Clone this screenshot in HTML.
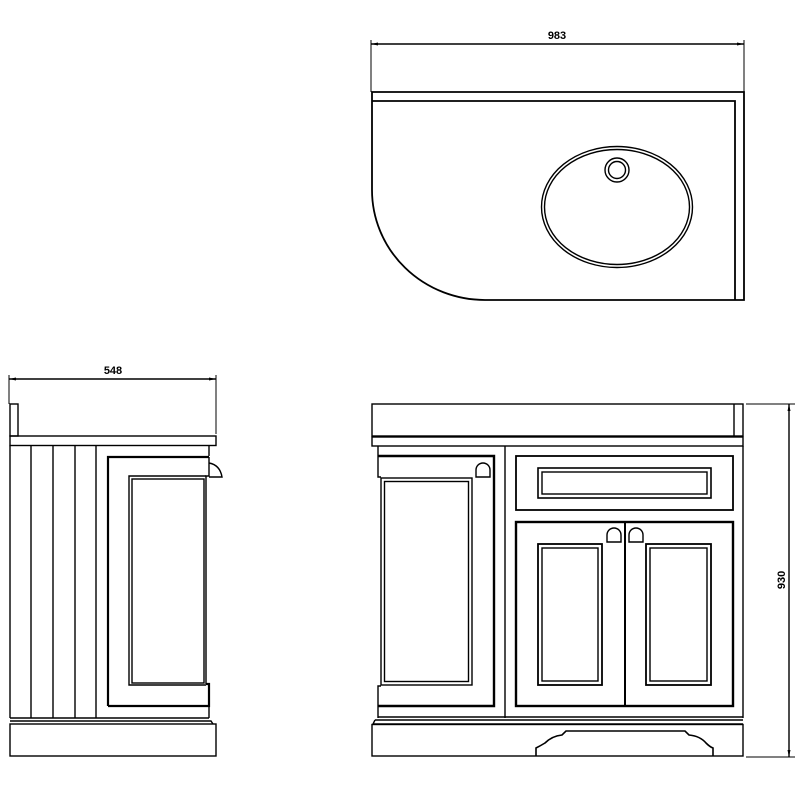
<!DOCTYPE html>
<html><head><meta charset="utf-8"><style>
html,body{margin:0;padding:0;background:#fff;width:800px;height:800px;overflow:hidden}
svg{display:block}
text{font-family:"Liberation Sans",Arial,sans-serif;font-size:11px;font-weight:bold;fill:#000}
</style></head><body>
<svg width="800" height="800" viewBox="0 0 800 800" fill="none" stroke="#000" stroke-width="1.4">
<!-- TOP VIEW -->
<line x1="371" y1="44" x2="744" y2="44"/>
<line x1="371" y1="40" x2="371" y2="92" stroke-width="1"/>
<line x1="744" y1="40" x2="744" y2="92" stroke-width="1"/>
<path d="M371 44 l7 -1.5 v3z M744 44 l-7 -1.5 v3z" fill="#000" stroke="none"/>
<text x="557" y="39" text-anchor="middle" stroke="none">983</text>
<path d="M372 92 H744 V300 H485 A113 110 0 0 1 372 190 Z" stroke-width="1.8"/>
<path d="M372 101 H735 V300" stroke-width="1.8"/>
<ellipse cx="617" cy="207" rx="75.5" ry="60.5" stroke-width="1.4"/>
<ellipse cx="617" cy="207" rx="72.5" ry="57.5" stroke-width="1.4"/>
<circle cx="617" cy="170" r="12" stroke-width="1.4"/>
<circle cx="617" cy="170" r="8.5" stroke-width="1.4"/>

<!-- SIDE VIEW -->
<line x1="9" y1="379" x2="216" y2="379"/>
<line x1="9" y1="375" x2="9" y2="404" stroke-width="1"/>
<line x1="216" y1="375" x2="216" y2="434" stroke-width="1"/>
<path d="M9 379 l7 -1.5 v3z M216 379 l-7 -1.5 v3z" fill="#000" stroke="none"/>
<text x="113" y="374" text-anchor="middle" stroke="none">548</text>
<rect x="10" y="404" width="8" height="32"/>
<rect x="10" y="436" width="206" height="9.5"/>
<path d="M10 445.5 V718 M209 445.5 V456 M209 706 V718"/>
<line x1="31" y1="446" x2="31" y2="718"/>
<line x1="53" y1="446" x2="53" y2="718"/>
<line x1="75" y1="446" x2="75" y2="718"/>
<line x1="96" y1="446" x2="96" y2="718"/>
<path d="M108 706 V457 H209" stroke-width="2.2"/>
<path d="M108 706 H209 V684 H206" stroke-width="2.2"/>
<path d="M209 457 V476 H206 V684" stroke-width="1.4"/>
<path d="M206 476 H129 V685 H206" stroke-width="1.4"/>
<rect x="132" y="479" width="72" height="204" stroke-width="1.4"/>
<path d="M209 463 Q220 465 222 477 H209" stroke-width="1.4"/>
<line x1="10" y1="718" x2="209" y2="718"/>
<path d="M10 721 H211 L213 724"/>
<rect x="10" y="724" width="206" height="32"/>

<!-- FRONT VIEW -->
<rect x="372" y="404" width="371" height="32"/>
<line x1="734" y1="404" x2="734" y2="436"/>
<rect x="372" y="437" width="371" height="9"/>
<path d="M378 446 V477 H381 M381 686 H378 V718"/>
<path d="M378 456 H494 V706 H378" stroke-width="2.4"/>
<rect x="381" y="478" width="91" height="207"/>
<rect x="384.5" y="481.5" width="84" height="200"/>
<path d="M476 477 V470 A7 7 0 0 1 490 470 V477 Z"/>
<line x1="505" y1="446" x2="505" y2="718"/>
<line x1="743" y1="446" x2="743" y2="718"/>
<rect x="516" y="456" width="217" height="54" stroke-width="1.8"/>
<rect x="538" y="468" width="173" height="30" stroke-width="1.6"/>
<rect x="542" y="472" width="165" height="22"/>
<rect x="516" y="522" width="217" height="184" stroke-width="2.4"/>
<line x1="625" y1="522" x2="625" y2="706" stroke-width="2"/>
<rect x="538" y="544" width="64" height="141" stroke-width="1.8"/>
<rect x="542" y="548" width="56" height="133"/>
<rect x="646" y="544" width="65" height="141" stroke-width="1.8"/>
<rect x="650" y="548" width="57" height="133"/>
<path d="M607 542 V535 A7 7 0 0 1 621 535 V542 Z"/>
<path d="M629 542 V535 A7 7 0 0 1 643 535 V542 Z"/>
<line x1="378" y1="717" x2="743" y2="717"/>
<path d="M375 720 H743" />
<path d="M375 720 L373 724 H743"/>
<rect x="372" y="724.5" width="371" height="31.5"/>
<path d="M536 756 V748 Q540 746 545 743 Q552 736 562 735 L566 731 H685 L689 735 Q700 736 706 743 Q710 747 713 748 V756" stroke-width="1.6"/>

<!-- 930 dim -->
<line x1="789" y1="404" x2="789" y2="757"/>
<line x1="746" y1="404" x2="795" y2="404" stroke-width="1"/>
<line x1="746" y1="757" x2="795" y2="757" stroke-width="1"/>
<path d="M789 404 l-1.5 7 h3z M789 757 l-1.5 -7 h3z" fill="#000" stroke="none"/>
<text x="0" y="0" transform="translate(785 580) rotate(-90)" text-anchor="middle" stroke="none">930</text>
</svg>
</body></html>
